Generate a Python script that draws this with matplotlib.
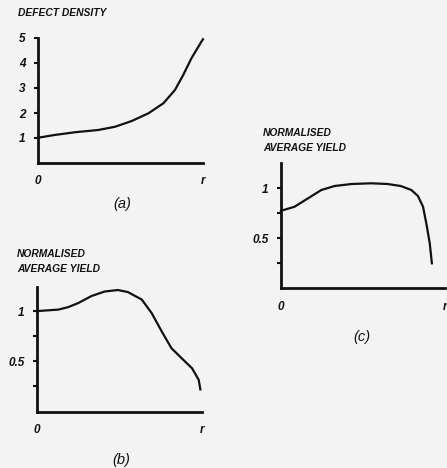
import matplotlib
matplotlib.use("Agg")
import matplotlib.pyplot as plt

# (a) defect density vs radius
r_a = [0, 0.10, 0.224, 0.365, 0.467, 0.568, 0.67, 0.76, 0.83, 0.88, 0.93, 0.99, 1.0]
density_a = [1.01, 1.12, 1.23, 1.32, 1.45, 1.68, 1.99, 2.39, 2.92, 3.52, 4.19, 4.85, 4.95]

# (b) normalised average yield
r_b = [0, 0.13, 0.19, 0.25, 0.33, 0.41, 0.49, 0.55, 0.635, 0.695, 0.755, 0.815,
       0.877, 0.94, 0.98, 0.99]
yield_b = [1.0, 1.015, 1.04, 1.08, 1.15, 1.195, 1.21, 1.19, 1.115, 0.98, 0.80, 0.63,
           0.53, 0.43, 0.315, 0.22]

# (c) normalised average yield
r_c = [0, 0.083, 0.165, 0.246, 0.327, 0.43, 0.55, 0.65, 0.73, 0.795, 0.835, 0.866,
       0.886, 0.907, 0.92]
yield_c = [0.775, 0.816, 0.90, 0.983, 1.023, 1.043, 1.05, 1.043, 1.023, 0.983, 0.923,
           0.816, 0.65, 0.45, 0.25]

W, H = 447, 468
BG = "#f3f3f3"
INK = "#111111"
FONT = "Liberation Sans"

fig = plt.figure(figsize=(W / 100, H / 100), dpi=100)
fig.patch.set_facecolor(BG)


def make_axes(left, right, top, bottom):
    return fig.add_axes([left / W, 1 - bottom / H, (right - left) / W, (bottom - top) / H])


def style(ax, ymax, yticks, ylabels):
    ax.set_facecolor(BG)
    ax.set_xlim(0, 1)
    ax.set_ylim(0, ymax)
    for s in ("top", "right"):
        ax.spines[s].set_visible(False)
    for s in ("left", "bottom"):
        ax.spines[s].set_linewidth(2.0)
        ax.spines[s].set_color(INK)
    ax.set_yticks(yticks)
    ax.set_yticklabels(ylabels, fontfamily=FONT, fontweight="bold",
                       fontstyle="italic", fontsize=8.5, color=INK)
    ax.tick_params(axis="y", length=3, width=1.5, color=INK, pad=6)
    ax.set_xticks([0, 1])
    ax.set_xticklabels(["0", "r"], fontfamily=FONT, fontweight="bold",
                       fontstyle="italic", fontsize=8.5, color=INK)
    ax.tick_params(axis="x", length=0, pad=9)


def title(x, y, lines):
    for i, t in enumerate(lines):
        fig.text(x / W, 1 - (y + 15 * i) / H, t, fontfamily=FONT, fontweight="bold",
                 fontstyle="italic", fontsize=7.4, color=INK, va="center", ha="left")


def panel_label(x, y, t):
    fig.text(x / W, 1 - y / H, t, fontfamily=FONT, fontstyle="italic",
             fontsize=10.5, color=INK, va="center", ha="center")


# panel (a)
ax_a = make_axes(38, 203, 38, 163)
style(ax_a, 5, [1, 2, 3, 4, 5], ["1", "2", "3", "4", "5"])
ax_a.plot(r_a, density_a, color=INK, lw=1.6, clip_on=False, solid_joinstyle="round")
title(18, 13, ["DEFECT DENSITY"])
panel_label(122, 204, "(a)")

# panel (b)
ax_b = make_axes(37, 202, 287, 411.5)
style(ax_b, 1.24, [0.25, 0.5, 0.75, 1.0], ["", "0.5", "", "1"])
ax_b.plot(r_b, yield_b, color=INK, lw=1.6, clip_on=False, solid_joinstyle="round")
title(17, 254, ["NORMALISED", "AVERAGE YIELD"])
panel_label(121, 460, "(b)")

# panel (c)
ax_c = make_axes(281, 445, 163.3, 288.3)
style(ax_c, 1.25, [0.25, 0.5, 0.75, 1.0], ["", "0.5", "", "1"])
ax_c.plot(r_c, yield_c, color=INK, lw=1.6, clip_on=False, solid_joinstyle="round")
title(263, 133, ["NORMALISED", "AVERAGE YIELD"])
panel_label(362, 337, "(c)")

fig.savefig("out.png", dpi=100, facecolor=BG)
